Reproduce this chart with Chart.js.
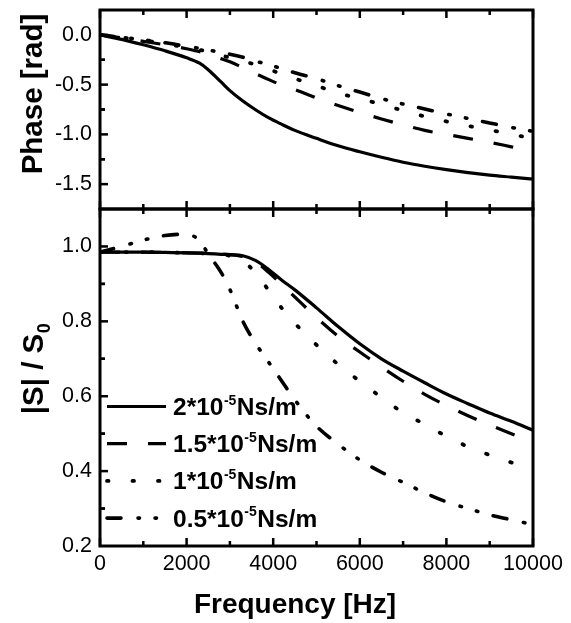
<!DOCTYPE html>
<html lang="en">
<head>
    <meta charset="UTF-8">
    <title>Phase and |S|/S0 vs frequency</title>
    <script src="https://cdn.jsdelivr.net/npm/chart.js@4.4.1/dist/chart.umd.min.js"></script>
    <style>
        body { margin: 0; background: #fff; }
        canvas { display: block; }
    </style>
</head>
<body>

<canvas id="myChart" width="571" height="623"></canvas>

<script>
    // frequency points (Hz)
    const freq = [0, 500, 1000, 1500, 2000, 2300, 2500, 2800, 3000, 3300, 3600, 3900, 4200, 4500,
                  5000, 5500, 6000, 6500, 7000, 7500, 8000, 8500, 9000, 9500, 10000];

    // phase [rad]
    const phase2  = [0, -0.045, -0.10, -0.16, -0.23, -0.285, -0.35, -0.475, -0.56, -0.665, -0.755, -0.835, -0.90, -0.96,
                     -1.04, -1.115, -1.175, -1.23, -1.28, -1.32, -1.355, -1.385, -1.41, -1.43, -1.45];
    const phase15 = [0, -0.03, -0.065, -0.10, -0.14, -0.17, -0.19, -0.24, -0.27, -0.33, -0.39, -0.45, -0.505, -0.55,
                     -0.635, -0.71, -0.78, -0.845, -0.905, -0.96, -1.0, -1.04, -1.08, -1.125, -1.17];
    const phase1  = [0, -0.025, -0.055, -0.09, -0.125, -0.15, -0.17, -0.205, -0.23, -0.265, -0.30, -0.345, -0.395, -0.44,
                     -0.51, -0.585, -0.64, -0.70, -0.76, -0.82, -0.87, -0.915, -0.955, -1.0, -1.04];
    const phase05 = [0, -0.025, -0.05, -0.08, -0.115, -0.135, -0.15, -0.18, -0.195, -0.225, -0.265, -0.30, -0.34, -0.38,
                     -0.44, -0.51, -0.575, -0.64, -0.695, -0.745, -0.795, -0.84, -0.885, -0.93, -0.97];

    // |S| / S0
    const mag2  = [0.985, 0.985, 0.985, 0.984, 0.983, 0.982, 0.981, 0.979, 0.978, 0.975, 0.962, 0.938, 0.91, 0.884,
                   0.836, 0.786, 0.74, 0.70, 0.667, 0.636, 0.606, 0.58, 0.555, 0.533, 0.509];
    const mag15 = [0.985, 0.985, 0.985, 0.984, 0.983, 0.982, 0.981, 0.979, 0.978, 0.973, 0.958, 0.93, 0.898, 0.865,
                   0.81, 0.76, 0.718, 0.678, 0.64, 0.605, 0.575, 0.548, 0.523, 0.50, 0.478];
    const mag1  = [0.985, 0.985, 0.985, 0.984, 0.983, 0.982, 0.981, 0.979, 0.975, 0.962, 0.928, 0.882, 0.835, 0.795,
                   0.737, 0.685, 0.64, 0.597, 0.556, 0.525, 0.493, 0.465, 0.443, 0.423, 0.405];
    const mag05 = [0.985, 1.00, 1.017, 1.029, 1.033, 1.015, 0.98, 0.93, 0.885, 0.80, 0.74, 0.69, 0.64, 0.59,
                   0.52, 0.472, 0.43, 0.397, 0.37, 0.342, 0.318, 0.30, 0.283, 0.27, 0.257];

    const seriesNames = ['2', '1.5', '1', '0.5'];   // *10^-5 Ns/m

    const xTicks = [0, 2000, 4000, 6000, 8000, 10000];
    const phaseTicks = [0, -0.5, -1.0, -1.5];
    const magTicks = [0.2, 0.4, 0.6, 0.8, 1.0];

    const phaseSets = [phase2, phase15, phase1, phase05];
    const magSets = [mag2, mag15, mag1, mag05];

    // solid, dash, dot, dash-dot-dot
    const dashes = [[], [20, 21], [1.5, 24], [14, 17, 1.5, 15.5, 1.5, 16]];
    const caps = ['butt', 'butt', 'round', 'round'];
    const widths = [3.2, 3.2, 3.8, 3.6];

    const FONT = 'Liberation Sans, Arial, sans-serif';
    Chart.defaults.font.family = FONT;
    Chart.defaults.color = '#000';

    function pts(ys) {
        return freq.map((f, i) => ({x: f, y: ys[i]}));
    }

    const datasets = [];
    seriesNames.forEach((name, i) => {
        const common = {
            borderColor: '#000',
            borderWidth: widths[i],
            borderDash: dashes[i],
            borderCapStyle: caps[i],
            pointRadius: 0,
            fill: false,
            cubicInterpolationMode: 'monotone'
        };
        datasets.push(Object.assign({label: name + '*10^-5Ns/m', data: pts(phaseSets[i]), yAxisID: 'yP'}, common));
        datasets.push(Object.assign({label: name + '*10^-5Ns/m', data: pts(magSets[i]), yAxisID: 'yS'}, common));
    });

    // frame + inward ticks
    const framePlugin = {
        id: 'frame',
        afterDatasetsDraw(chart) {
            const ctx = chart.ctx;
            const x = chart.scales.x;
            const panels = [chart.scales.yP, chart.scales.yS];
            ctx.save();
            ctx.strokeStyle = '#000';
            ctx.setLineDash([]);
            ctx.lineCap = 'butt';

            // x ticks at top and bottom edge of every panel
            ctx.lineWidth = 2.5;
            const xs = [];
            for (let i = 0; i < xTicks.length; i++) {
                xs.push([xTicks[i], 8]);
                if (i < xTicks.length - 1) xs.push([(xTicks[i] + xTicks[i + 1]) / 2, 5]);
            }
            panels.forEach(p => {
                xs.forEach(([v, len]) => {
                    const px = x.getPixelForValue(v);
                    ctx.beginPath();
                    ctx.moveTo(px, p.top); ctx.lineTo(px, p.top + len);
                    ctx.moveTo(px, p.bottom); ctx.lineTo(px, p.bottom - len);
                    ctx.stroke();
                });
            });

            // y ticks on the left
            function yTicksDraw(scale, ticks) {
                const step = Math.abs(ticks[1] - ticks[0]);
                const list = [];
                ticks.forEach(v => {
                    list.push([v, 8]);
                    list.push([v + step / 2, 5]);
                    list.push([v - step / 2, 5]);
                });
                list.forEach(([v, len]) => {
                    if (v <= scale.min + 1e-9 || v >= scale.max - 1e-9) return;
                    const py = scale.getPixelForValue(v);
                    ctx.beginPath();
                    ctx.moveTo(x.left, py); ctx.lineTo(x.left + len, py);
                    ctx.stroke();
                });
            }
            yTicksDraw(chart.scales.yP, phaseTicks);
            yTicksDraw(chart.scales.yS, magTicks);

            // boxes
            ctx.lineWidth = 3;
            panels.forEach(p => {
                ctx.strokeRect(x.left, p.top, x.right - x.left, p.bottom - p.top);
            });
            ctx.restore();
        }
    };

    // legend inside lower panel
    const legendPlugin = {
        id: 'legendBox',
        afterDraw(chart) {
            const ctx = chart.ctx;
            ctx.save();
            ctx.fillStyle = '#000';
            ctx.strokeStyle = '#000';
            ctx.textBaseline = 'alphabetic';
            seriesNames.forEach((name, i) => {
                const y = 406.5 + i * 37.2;
                ctx.lineWidth = widths[i];
                ctx.setLineDash(dashes[i]);
                ctx.lineCap = caps[i];
                ctx.beginPath();
                ctx.moveTo(107, y); ctx.lineTo(166, y);
                ctx.stroke();
                ctx.setLineDash([]);

                let tx = 173;
                ctx.font = 'bold 24.5px ' + FONT;
                const a = name + '*10';
                ctx.fillText(a, tx, y + 8.5);
                tx += ctx.measureText(a).width + 0.5;
                ctx.font = 'bold 14px ' + FONT;
                ctx.fillText('-5', tx, y - 2);
                tx += ctx.measureText('-5').width + 0.5;
                ctx.font = 'bold 24.5px ' + FONT;
                ctx.fillText('Ns/m', tx, y + 8.5);
            });
            ctx.restore();
        }
    };

    // axis titles
    const titlePlugin = {
        id: 'titles',
        afterDraw(chart) {
            const ctx = chart.ctx;
            ctx.save();
            ctx.fillStyle = '#000';
            ctx.textBaseline = 'alphabetic';

            ctx.font = 'bold 28px ' + FONT;
            ctx.textAlign = 'center';
            ctx.fillText('Frequency [Hz]', 295, 613);

            // Phase [rad]
            ctx.save();
            ctx.translate(42, 94);
            ctx.rotate(-Math.PI / 2);
            ctx.font = 'bold 29.5px ' + FONT;
            ctx.fillText('Phase [rad]', 0, 0);
            ctx.restore();

            // |S| / S0
            ctx.save();
            ctx.translate(43, 369);
            ctx.rotate(-Math.PI / 2);
            ctx.textAlign = 'left';
            ctx.font = 'bold 29.5px ' + FONT;
            const main = '|S| / S';
            const w1 = ctx.measureText(main).width;
            ctx.font = 'bold 18px ' + FONT;
            const w2 = ctx.measureText('0').width;
            const start = -(w1 + w2) / 2;
            ctx.font = 'bold 29.5px ' + FONT;
            ctx.fillText(main, start, 0);
            ctx.font = 'bold 18px ' + FONT;
            ctx.fillText('0', start + w1 + 0.5, 7);
            ctx.restore();

            ctx.restore();
        }
    };

    const tickFont = {size: 21.5, family: FONT};

    const myChart = new Chart(document.getElementById('myChart').getContext('2d'), {
        type: 'line',
        data: {datasets: datasets},
        options: {
            responsive: false,
            devicePixelRatio: 1,
            animation: false,
            layout: {padding: {top: 10, right: 38, left: 0, bottom: 0}},
            plugins: {legend: {display: false}, tooltip: {enabled: false}},
            scales: {
                x: {
                    type: 'linear',
                    position: 'bottom',
                    min: 0, max: 10000,
                    grid: {display: false, drawTicks: false},
                    border: {display: false},
                    ticks: {font: tickFont, color: '#000', padding: 5, maxRotation: 0,
                            callback: v => String(v)},
                    afterBuildTicks: s => { s.ticks = xTicks.map(v => ({value: v})); },
                    afterFit: s => { s.height = 77; s.paddingLeft = 0; s.paddingRight = 0; }
                },
                yS: {
                    type: 'linear',
                    position: 'left',
                    stack: 'panels',
                    stackWeight: 337,
                    min: 0.2, max: 1.1,
                    grid: {display: false, drawTicks: false},
                    border: {display: false},
                    ticks: {font: tickFont, color: '#000', padding: 8,
                            callback: v => v.toFixed(1)},
                    afterBuildTicks: s => { s.ticks = magTicks.map(v => ({value: v})); },
                    afterFit: s => { s.width = 100; s.paddingTop = 0; s.paddingBottom = 0; }
                },
                yP: {
                    type: 'linear',
                    position: 'left',
                    stack: 'panels',
                    stackWeight: 199,
                    min: -1.75, max: 0.25,
                    grid: {display: false, drawTicks: false},
                    border: {display: false},
                    ticks: {font: tickFont, color: '#000', padding: 8,
                            callback: v => v.toFixed(1)},
                    afterBuildTicks: s => { s.ticks = phaseTicks.map(v => ({value: v})); },
                    afterFit: s => { s.width = 100; s.paddingTop = 0; s.paddingBottom = 0; }
                }
            }
        },
        plugins: [framePlugin, legendPlugin, titlePlugin]
    });
</script>

</body>
</html>
